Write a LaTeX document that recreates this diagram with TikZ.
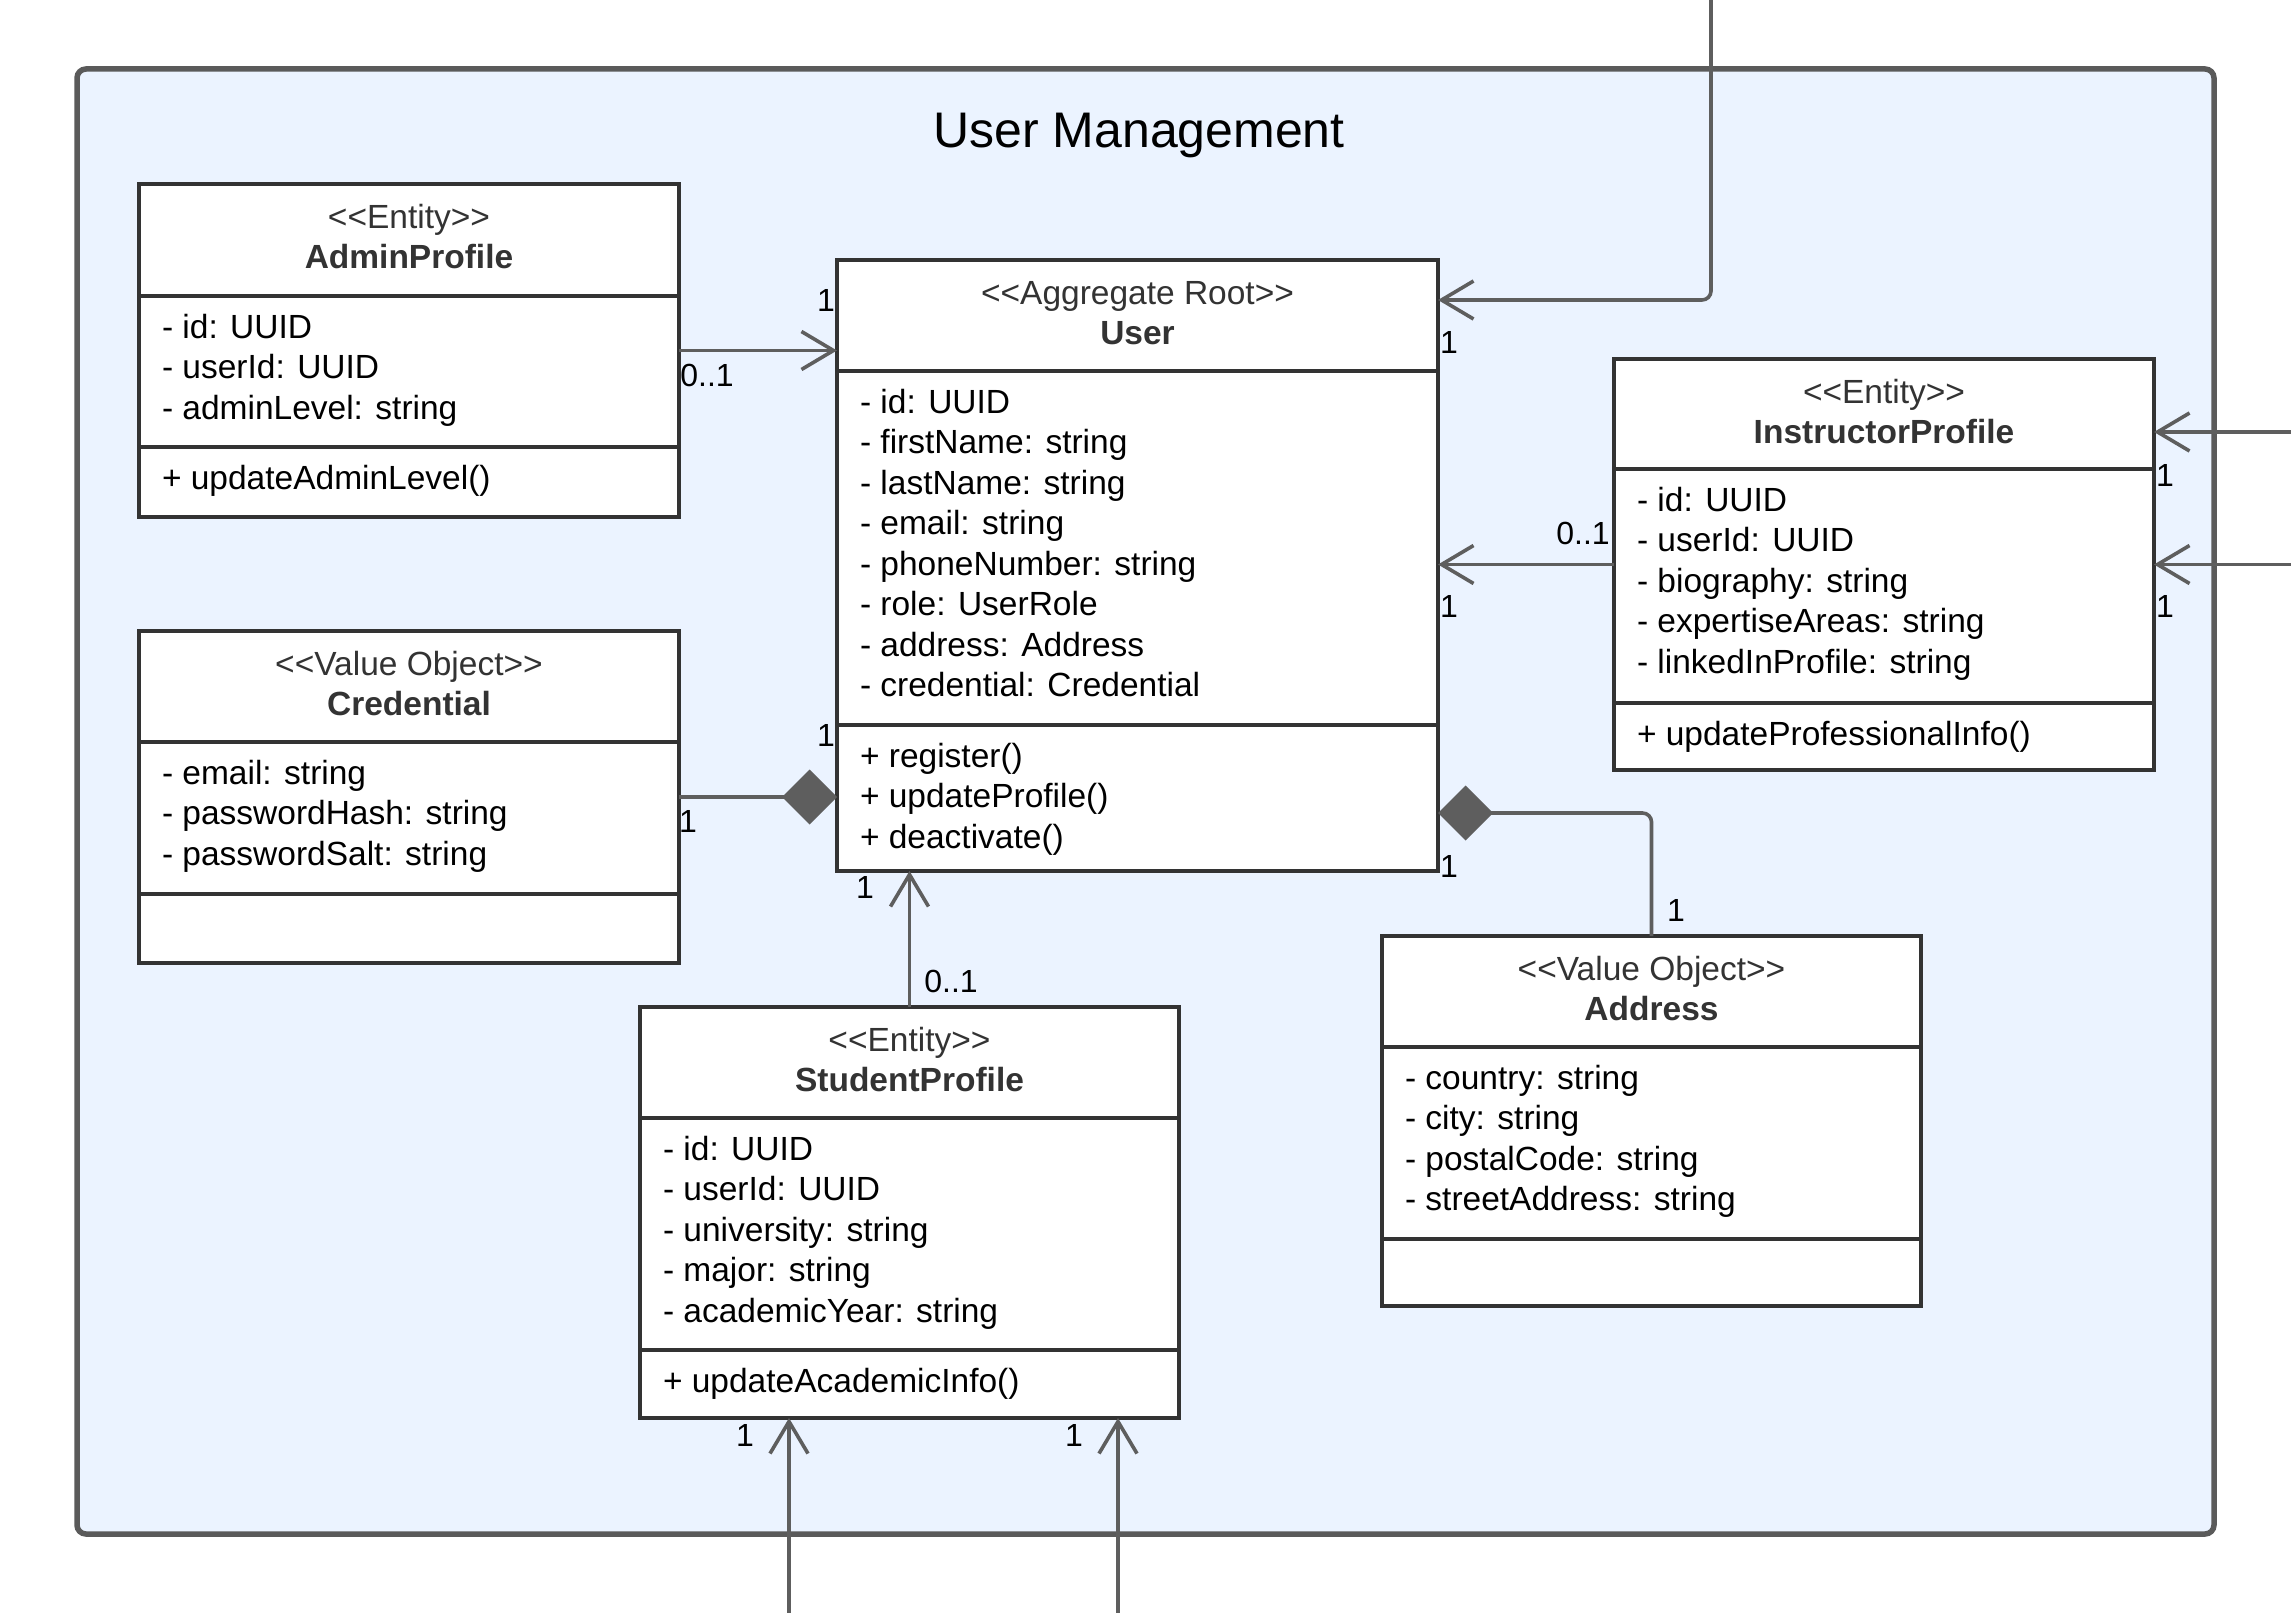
\documentclass[tikz,border=0pt]{standalone}
\usepackage{fontspec}
\setmainfont{Liberation Sans}[Ligatures=TeXOff]
\usepackage{tikz}
\usetikzlibrary{arrows.meta,positioning}
\tikzset{
  pkgbox/.style  ={draw=pkgline, fill=pkgblue, line width=5.5pt,
                   rounded corners=9pt, inner sep=0pt},
  classbox/.style={draw=boxline, fill=white, line width=4pt,
                   inner sep=0pt, outer sep=0pt},
  sepline/.style ={draw=boxline, line width=4pt},
  headtxt/.style ={align=center, inner sep=0pt, outer sep=0pt,
                   text=headgray, font=\fontsize{33.5}{40.5}\selectfont},
  membtxt/.style ={anchor=north west, align=left, inner sep=0pt,
                   outer sep=0pt, font=\fontsize{33.5}{40.5}\selectfont},
  multtxt/.style ={anchor=base, inner sep=0pt,
                   font=\fontsize{32}{38}\selectfont},
  assoc/.style   ={draw=connline, line width=3.6pt,
                   -{Straight Barb[length=32pt,width=38pt]}},
  compo/.style   ={draw=connline, line width=3.6pt,
                   -{Diamond[length=55pt,width=55pt]}},
}
\definecolor{pkgblue} {RGB}{235,243,255}
\definecolor{pkgline} {RGB}{90,90,90}
\definecolor{boxline} {RGB}{51,51,51}
\definecolor{connline}{RGB}{94,94,94}
\definecolor{headgray}{RGB}{51,51,51}

\begin{document}
\begin{tikzpicture}[x=1pt,y=-1pt]
  \path[fill=white, use as bounding box] (0,0) rectangle (2291,1613);
  \node[pkgbox, minimum width=2137, minimum height=1465] (pkg) at (1145.5,801.5) {};
  \node[anchor=base, inner sep=0pt, font=\fontsize{50}{60}\selectfont] (pkg-title) at (1139,147.3) {User Management};

  \node[classbox, minimum width=540, minimum height=333] (admin) at (409,350.5) {};
  \node[headtxt, below=16pt of admin.north] (admin-hd) {\strut<<Entity>>\\\textbf{AdminProfile}};
  \draw[sepline] (admin.west |- 0,296) -- (admin.east |- 0,296);
  \draw[sepline] (admin.west |- 0,447) -- (admin.east |- 0,447);
  \node[membtxt] (admin-at) at (162,310) {\strut- id: UUID\\- userId: UUID\\- adminLevel: string};
  \node[membtxt] (admin-op) at (162,461) {\strut+ updateAdminLevel()};

  \node[classbox, minimum width=601, minimum height=611] (user) at (1137.5,565.5) {};
  \node[headtxt, below=16pt of user.north] (user-hd) {\strut<<Aggregate Root>>\\\textbf{User}};
  \draw[sepline] (user.west |- 0,371) -- (user.east |- 0,371);
  \draw[sepline] (user.west |- 0,725) -- (user.east |- 0,725);
  \node[membtxt] (user-at) at (860,385) {\strut- id: UUID\\- firstName: string\\- lastName: string\\- email: string\\- phoneNumber: string\\- role: UserRole\\- address: Address\\- credential: Credential};
  \node[membtxt] (user-op) at (860,739) {\strut+ register()\\+ updateProfile()\\+ deactivate()};

  \node[classbox, minimum width=540, minimum height=411] (instr) at (1884,564.5) {};
  \node[headtxt, below=16pt of instr.north] (instr-hd) {\strut<<Entity>>\\\textbf{InstructorProfile}};
  \draw[sepline] (instr.west |- 0,469) -- (instr.east |- 0,469);
  \draw[sepline] (instr.west |- 0,703) -- (instr.east |- 0,703);
  \node[membtxt] (instr-at) at (1637,483) {\strut- id: UUID\\- userId: UUID\\- biography: string\\- expertiseAreas: string\\- linkedInProfile: string};
  \node[membtxt] (instr-op) at (1637,717) {\strut+ updateProfessionalInfo()};

  \node[classbox, minimum width=540, minimum height=332] (cred) at (409,797) {};
  \node[headtxt, below=16pt of cred.north] (cred-hd) {\strut<<Value Object>>\\\textbf{Credential}};
  \draw[sepline] (cred.west |- 0,742) -- (cred.east |- 0,742);
  \draw[sepline] (cred.west |- 0,894) -- (cred.east |- 0,894);
  \node[membtxt] (cred-at) at (162,756) {\strut- email: string\\- passwordHash: string\\- passwordSalt: string};

  \node[classbox, minimum width=539, minimum height=411] (stud) at (909.5,1212.5) {};
  \node[headtxt, below=16pt of stud.north] (stud-hd) {\strut<<Entity>>\\\textbf{StudentProfile}};
  \draw[sepline] (stud.west |- 0,1118) -- (stud.east |- 0,1118);
  \draw[sepline] (stud.west |- 0,1350) -- (stud.east |- 0,1350);
  \node[membtxt] (stud-at) at (663,1132) {\strut- id: UUID\\- userId: UUID\\- university: string\\- major: string\\- academicYear: string};
  \node[membtxt] (stud-op) at (663,1364) {\strut+ updateAcademicInfo()};

  \node[classbox, minimum width=539, minimum height=370] (addr) at (1651.5,1121) {};
  \node[headtxt, below=16pt of addr.north] (addr-hd) {\strut<<Value Object>>\\\textbf{Address}};
  \draw[sepline] (addr.west |- 0,1047) -- (addr.east |- 0,1047);
  \draw[sepline] (addr.west |- 0,1239) -- (addr.east |- 0,1239);
  \node[membtxt] (addr-at) at (1405,1061) {\strut- country: string\\- city: string\\- postalCode: string\\- streetAddress: string};

  \coordinate (ext-top) at (1711,0);
  \coordinate (ext-r1) at (2291,432);
  \coordinate (ext-r2) at (2291,564.5);
  \coordinate (ext-b1) at (789,1613);
  \coordinate (ext-b2) at (1118,1613);

  \draw[assoc] (admin.east) -- (admin.east -| user.west);
  \draw[assoc, rounded corners=9pt] (ext-top) |- ([yshift=-40pt]user.north east);
  \draw[assoc] (instr.west) -- (instr.west -| user.east);
  \draw[assoc] (ext-r1) -- (ext-r1 -| instr.east);
  \draw[assoc] (ext-r2) -- (ext-r2 -| instr.east);
  \draw[compo] (cred.east) -- (cred.east -| user.west);
  \draw[compo, rounded corners=9pt] (addr.north) |- ([yshift=-247.5pt]user.east);
  \draw[assoc] (stud.north) -- (stud.north |- user.south);
  \draw[assoc] (ext-b1) -- (ext-b1 |- stud.south);
  \draw[assoc] (ext-b2) -- (ext-b2 |- stud.south);

  \node[multtxt] (m-au-u) at (826,311) {1};
  \node[multtxt] (m-au-a) at (707,386) {0..1};
  \node[multtxt] (m-top-u) at (1449,353) {1};
  \node[multtxt] (m-iu-i) at (1583,544) {0..1};
  \node[multtxt] (m-iu-u) at (1449,617) {1};
  \node[multtxt] (m-r1) at (2165,486) {1};
  \node[multtxt] (m-r2) at (2165,617) {1};
  \node[multtxt] (m-cu-c) at (688,832) {1};
  \node[multtxt] (m-cu-u) at (826,746) {1};
  \node[multtxt] (m-ad-u) at (1449,877) {1};
  \node[multtxt] (m-ad-a) at (1676,921) {1};
  \node[multtxt] (m-su-u) at (865,898) {1};
  \node[multtxt] (m-su-s) at (951,992) {0..1};
  \node[multtxt] (m-b1) at (745,1446) {1};
  \node[multtxt] (m-b2) at (1074,1446) {1};
\end{tikzpicture}
\end{document}
